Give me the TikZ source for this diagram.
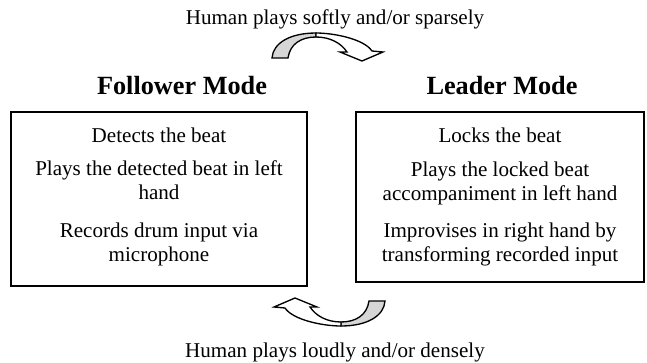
\documentclass[tikz,border=0pt]{standalone}
\usepackage{fontspec}
\setmainfont{Liberation Serif}
\begin{document}
\begin{tikzpicture}[x=0.75pt,y=-0.75pt,
  lbl/.style={font=\fontsize{15.8}{18}\selectfont, inner sep=0pt, anchor=base},
  ttl/.style={font=\fontsize{19.7}{22}\selectfont\bfseries, inner sep=0pt, anchor=base},
  modebox/.style={draw, line width=1.5pt, inner sep=0pt},
  arrowline/.style={draw=black, line width=1pt, line join=miter},
  curvedarrow/.pic={
    % shaded back face of the curved band
    \filldraw[arrowline, fill=gray!32]
      (-56,11) .. controls (-55,-4) and (-38,-14) .. (-12,-14)
      -- (-12,-10) .. controls (-27,-10) and (-38,-3) .. (-40,11) -- cycle;
    % white front face ending in the arrow head
    \filldraw[arrowline, fill=white]
      (-12,-14) .. controls (6,-14) and (36,-8) .. (44,4)
      -- (55,5) -- (34,14) -- (12,5) -- (19,5)
      .. controls (13,-4) and (2,-10) .. (-12,-10) -- cycle;
  }]
\useasboundingbox (0,0) rectangle (647,362);

% transition labels and arrows
\node[lbl] (soft) at (335,24) {Human plays softly and/or sparsely};
\pic (toleader) at (328,47) {curvedarrow};
\pic[rotate=180] (tofollower) at (329,312) {curvedarrow};
\node[lbl] (loud) at (335,357) {Human plays loudly and/or densely};

% mode titles
\node[ttl] (ftitle) at (182,94) {Follower Mode};
\node[ttl] (ltitle) at (502,94) {Leader Mode};

% mode boxes
\node[modebox, minimum width=222pt, minimum height=130.5pt] (fbox) at (159,199) {};
\node[modebox, minimum width=216pt, minimum height=127.5pt] (lbox) at (500,197) {};

% follower mode behaviour
\node[lbl] (f1) at (159,142) {Detects the beat};
\node[lbl] (f2a) at (159,175) {Plays the detected beat in left};
\node[lbl] (f2b) at (159,199) {hand};
\node[lbl] (f3a) at (159,237) {Records drum input via};
\node[lbl] (f3b) at (159,261) {microphone};

% leader mode behaviour
\node[lbl] (l1) at (500,142) {Locks the beat};
\node[lbl] (l2a) at (500,176) {Plays the locked beat};
\node[lbl] (l2b) at (500,200) {accompaniment in left hand};
\node[lbl] (l3a) at (500,237) {Improvises in right hand by};
\node[lbl] (l3b) at (500,261) {transforming recorded input};
\end{tikzpicture}
\end{document}
